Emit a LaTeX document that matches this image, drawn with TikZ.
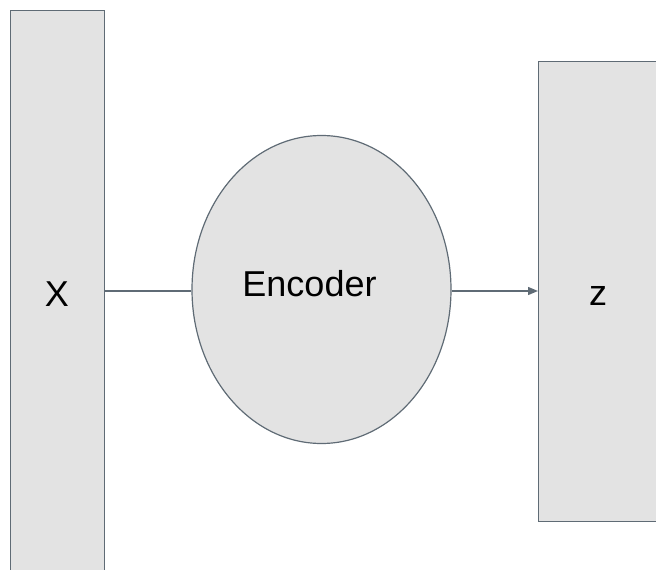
\documentclass[tikz,border=0pt]{standalone}
\usepackage{fontspec}
\setmainfont{Liberation Sans}
\usetikzlibrary{shapes.geometric,arrows.meta}
\definecolor{edge}{HTML}{5F6B75}
\definecolor{panel}{HTML}{E3E3E3}
\begin{document}
\begin{tikzpicture}[x=1pt,y=-1pt,
  block/.style={draw=edge,fill=panel,line width=1.4pt,rectangle,inner sep=0pt},
  blob/.style={draw=edge,fill=panel,line width=1.2pt,ellipse,inner sep=0pt},
  link/.style={draw=edge,line width=1.4pt},
  lbl/.style={font=\fontsize{36}{40}\selectfont,text=black,inner sep=0pt,anchor=base}]
\useasboundingbox (0,0) rectangle (656,570);
\begin{scope}
\clip (0,0) rectangle (656,570);
\node[block,minimum width=94pt,minimum height=580pt,anchor=north west] (x) at (10,10) {};
\node[blob,minimum width=259pt,minimum height=308pt] (enc) at (321.5,289.5) {};
\node[block,minimum width=140pt,minimum height=460pt,anchor=north west] (z) at (538,61) {};
\end{scope}
\coordinate (row) at (0,291);
\node[lbl] (xl) at (57,306) {X};
\node[lbl] (el) at (309.5,296.5) {Encoder};
\node[lbl] (zl) at (598,305) {z};
\draw[link] (x.east |- row) -- (enc.west |- row);
\draw[link,-{Triangle[length=10pt,width=8pt]}] (enc.east |- row) -- (z.west |- row);
\end{tikzpicture}
\end{document}
